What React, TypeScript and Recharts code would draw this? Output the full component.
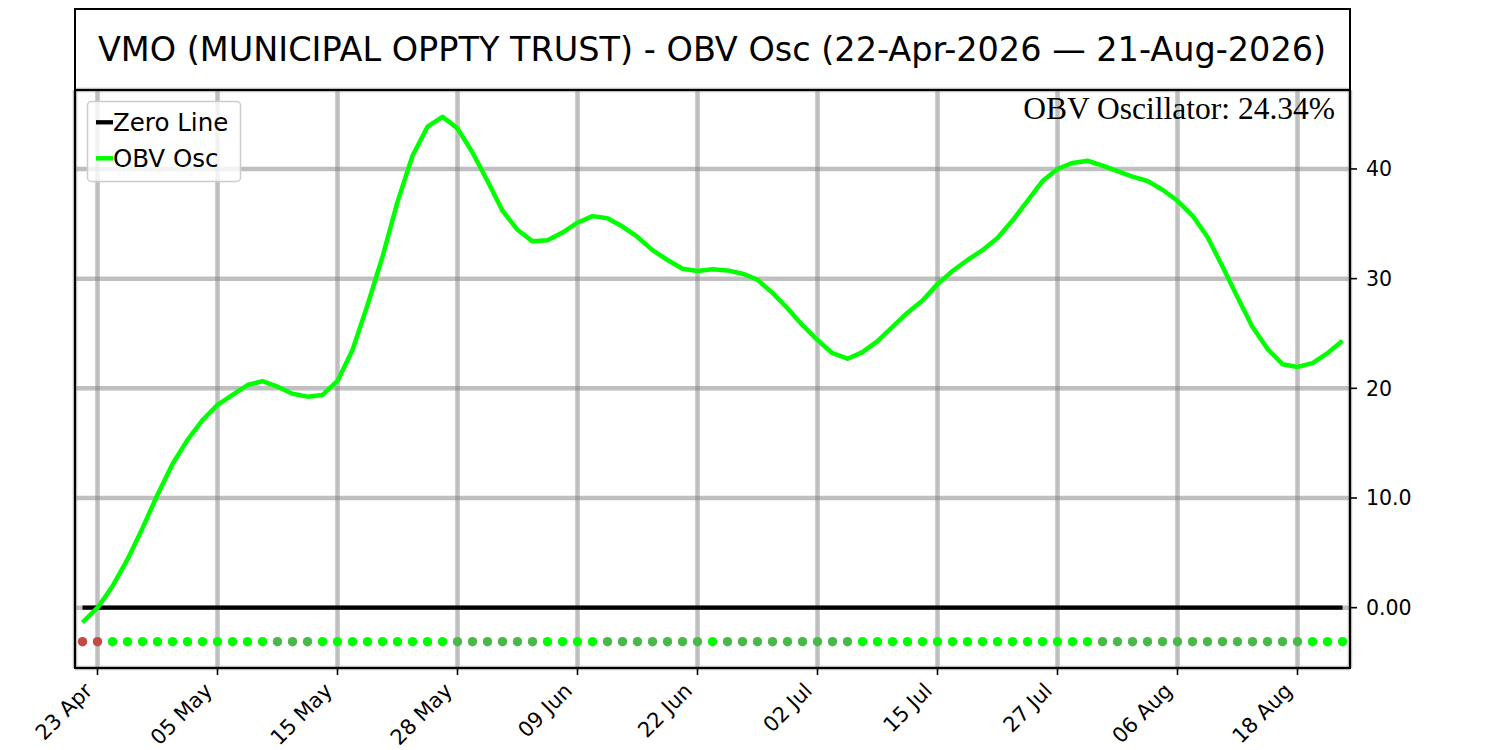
import React from "react";
import { ComposedChart, Line, XAxis, YAxis, CartesianGrid } from "recharts";

// trading days, 22-Apr-2026 .. 21-Aug-2026
const dates = [
	"22 Apr", "23 Apr", "24 Apr", "27 Apr", "28 Apr", "29 Apr", "30 Apr",
	"01 May", "04 May", "05 May", "06 May", "07 May", "08 May", "11 May", "12 May", "13 May", "14 May", "15 May",
	"18 May", "19 May", "20 May", "21 May", "22 May", "26 May", "27 May", "28 May", "29 May",
	"01 Jun", "02 Jun", "03 Jun", "04 Jun", "05 Jun", "08 Jun", "09 Jun", "10 Jun", "11 Jun", "12 Jun",
	"15 Jun", "16 Jun", "17 Jun", "18 Jun", "22 Jun", "23 Jun", "24 Jun", "25 Jun", "26 Jun", "29 Jun", "30 Jun",
	"01 Jul", "02 Jul", "06 Jul", "07 Jul", "08 Jul", "09 Jul", "10 Jul", "13 Jul", "14 Jul", "15 Jul", "16 Jul",
	"17 Jul", "20 Jul", "21 Jul", "22 Jul", "23 Jul", "24 Jul", "27 Jul", "28 Jul", "29 Jul", "30 Jul", "31 Jul",
	"03 Aug", "04 Aug", "05 Aug", "06 Aug", "07 Aug", "10 Aug", "11 Aug", "12 Aug", "13 Aug", "14 Aug",
	"17 Aug", "18 Aug", "19 Aug", "20 Aug", "21 Aug",
];

const obvOsc = [
	-1.35, 0.0, 1.96, 4.4, 7.25, 10.3, 13.1, 15.3, 17.1, 18.5,
	19.4, 20.3, 20.65, 20.15, 19.5, 19.24, 19.4, 20.67, 23.5, 27.6,
	32.0, 37.0, 41.2, 43.85, 44.76, 43.7, 41.5, 38.9, 36.2, 34.45,
	33.4, 33.5, 34.2, 35.1, 35.7, 35.5, 34.75, 33.8, 32.6, 31.7,
	30.9, 30.7, 30.85, 30.75, 30.45, 29.9, 28.7, 27.3, 25.75, 24.4,
	23.2, 22.7, 23.3, 24.3, 25.6, 26.9, 28.0, 29.5, 30.7, 31.7,
	32.6, 33.7, 35.3, 37.1, 38.9, 40.0, 40.55, 40.75, 40.3, 39.8,
	39.3, 38.9, 38.1, 37.1, 35.75, 33.8, 31.1, 28.3, 25.6, 23.6,
	22.2, 21.95, 22.3, 23.2, 24.34,
];

// signal dots: n = below zero, u = rising, d = falling
const signals = [
	"n", "n", "u", "u", "u", "u", "u", "u", "u", "u",
	"u", "u", "u", "d", "d", "d", "u", "u", "u", "u",
	"u", "u", "u", "u", "u", "d", "d", "d", "d", "d",
	"d", "u", "u", "u", "u", "d", "d", "d", "d", "d",
	"d", "d", "u", "d", "d", "d", "d", "d", "d", "d",
	"d", "d", "u", "u", "u", "u", "u", "u", "u", "u",
	"u", "u", "u", "u", "u", "u", "u", "u", "d", "d",
	"d", "d", "d", "d", "d", "d", "d", "d", "d", "d",
	"d", "d", "u", "u", "u",
];

const xTicks = [1, 9, 17, 25, 33, 41, 49, 57, 65, 73, 81];
const yTicks = [0, 10, 20, 30, 40];
const yTickLabels = ["0.00", "10.0", "20", "30", "40"];

const signalLevel = -3.1;
const lastValue = "24.34%";

const signalColors: Record<string, string> = {
	n: "#c24a45",
	u: "#00ff00",
	d: "#48b948",
};

const rows = obvOsc.map((v, i) => ({
	i,
	date: dates[i],
	obv: v,
	zero: 0,
	sig: signalLevel,
	state: signals[i],
}));

const FONT = "'DejaVu Sans', sans-serif";

const renderXTick = ({ x, y, payload }: any) => {
	const ex = x - 4;
	const ey = y + 17;
	return (
		<text
			x={ex}
			y={ey}
			transform={`rotate(-45 ${ex} ${ey})`}
			textAnchor="end"
			fontSize={21}
			fontFamily={FONT}
			fill="#000"
		>
			{dates[payload.value]}
		</text>
	);
};

const renderSignalDot = (props: any) => {
	const { cx, cy, payload, index } = props;
	return (
		<circle
			key={`sig-${index}`}
			cx={cx}
			cy={cy}
			r={4.7}
			fill={signalColors[payload.state]}
			stroke="none"
		/>
	);
};

export default function App() {
	return (
		<div style={{ position: "absolute", left: 0, top: 0, width: 1500, height: 750, background: "#fff" }}>
			<ComposedChart
				width={1500}
				height={750}
				data={rows}
				margin={{ top: 90, right: 0, bottom: 0, left: 75 }}
				style={{ fontFamily: FONT }}
			>
				<CartesianGrid stroke="#808080" strokeOpacity={0.5} strokeWidth={4.5} />
				<XAxis
					dataKey="i"
					type="number"
					domain={[-0.5, 84.5]}
					ticks={xTicks}
					interval={0}
					allowDataOverflow
					height={82}
					tickSize={7}
					tickMargin={0}
					tickLine={{ stroke: "#000", strokeWidth: 1.6 }}
					axisLine={{ stroke: "#000", strokeWidth: 2 }}
					tick={renderXTick}
				/>
				<YAxis
					orientation="right"
					type="number"
					domain={[-5.5, 47.2]}
					ticks={yTicks}
					interval={0}
					allowDataOverflow
					width={150}
					tickSize={7}
					tickMargin={9}
					tickLine={{ stroke: "#000", strokeWidth: 1.6 }}
					axisLine={{ stroke: "#000", strokeWidth: 2 }}
					tick={{ fontSize: 20.5, fill: "#000", fontFamily: FONT }}
					tickFormatter={(v: number) => yTickLabels[yTicks.indexOf(v)] ?? String(v)}
				/>
				<Line
					dataKey="zero"
					type="linear"
					stroke="#000"
					strokeWidth={4.3}
					dot={false}
					activeDot={false}
					isAnimationActive={false}
				/>
				<Line
					dataKey="obv"
					type="linear"
					stroke="#00ff00"
					strokeWidth={4.5}
					strokeLinejoin="round"
					dot={false}
					activeDot={false}
					isAnimationActive={false}
				/>
				<Line
					dataKey="sig"
					type="linear"
					stroke="none"
					dot={renderSignalDot}
					activeDot={false}
					isAnimationActive={false}
				/>
			</ComposedChart>
			<svg
				width={1500}
				height={750}
				style={{ position: "absolute", left: 0, top: 0, pointerEvents: "none" }}
			>
				<rect x={75} y={9} width={1275} height={81} fill="none" stroke="#000" strokeWidth={2} />
				<text x={712} y={61} textAnchor="middle" fontSize={33.5} fontFamily={FONT} fill="#000">
					VMO (MUNICIPAL OPPTY TRUST) - OBV Osc (22-Apr-2026 — 21-Aug-2026)
				</text>
				<rect x={75} y={90} width={1275} height={578} fill="none" stroke="#000" strokeWidth={2} />
				<text
					x={1335}
					y={119}
					textAnchor="end"
					fontSize={31.5}
					fontFamily="'Liberation Serif', 'Times New Roman', serif"
					fill="#000"
				>
					OBV Oscillator: {lastValue}
				</text>
				<rect
					x={87.5}
					y={101.5}
					width={153}
					height={80}
					rx={4}
					fill="#fff"
					fillOpacity={0.8}
					stroke="#cccccc"
					strokeWidth={1.5}
				/>
				<line x1={96} y1={122.3} x2={113} y2={122.3} stroke="#000" strokeWidth={4.3} />
				<text x={113} y={130.5} fontSize={24.5} fontFamily={FONT} fill="#000">
					Zero Line
				</text>
				<line x1={96} y1={158.3} x2={113} y2={158.3} stroke="#00ff00" strokeWidth={4.5} />
				<text x={113} y={166.7} fontSize={24.5} fontFamily={FONT} fill="#000">
					OBV Osc
				</text>
			</svg>
		</div>
	);
}
